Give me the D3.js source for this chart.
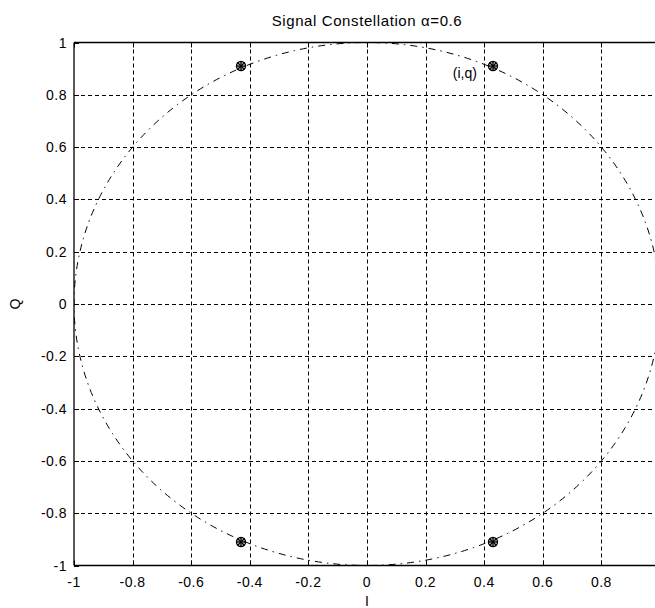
<!DOCTYPE html>
<html>
<head>
<meta charset="utf-8">
<script src="https://cdn.jsdelivr.net/npm/d3@7"></script>
<style>
  html, body { margin: 0; padding: 0; background: #fff; }
  svg { display: block; overflow: hidden; }
  text { font-family: "Liberation Sans", Arial, sans-serif; fill: #000; }
</style>
</head>
<body>
<script>
// ---- data ----
const xTicks = [-1, -0.8, -0.6, -0.4, -0.2, 0, 0.2, 0.4, 0.6, 0.8, 1];
const yTicks = [-1, -0.8, -0.6, -0.4, -0.2, 0, 0.2, 0.4, 0.6, 0.8, 1];
const xTickLabels = ["-1", "-0.8", "-0.6", "-0.4", "-0.2", "0", "0.2", "0.4", "0.6", "0.8", ""];
const yTickLabels = ["-1", "-0.8", "-0.6", "-0.4", "-0.2", "0", "0.2", "0.4", "0.6", "0.8", "1"];
const iValues = [-0.43, 0.43, -0.43, 0.43];
const qValues = [0.91, 0.91, -0.91, -0.91];
const circleRadius = [1];
const annotation = { text: "(i,q)", i: 0.375, q: 0.865 };
const titleText = "Signal Constellation \u03b1=0.6";
const xLabelText = "I";
const yLabelText = "Q";

(function () {
// ---- layout ----
const W = 655, H = 608;
const pL = 74, pR = 660, pT = 42.5, pB = 565.5;

const svg = d3.select("body").append("svg").attr("width", W).attr("height", H);
svg.append("rect").attr("width", W).attr("height", H).attr("fill", "#fff");

const x = d3.scaleLinear().domain([-1, 1]).range([pL, pR]);
const y = d3.scaleLinear().domain([-1, 1]).range([pB, pT]);

const fs = 14;

// grid
const g = svg.append("g");
g.selectAll("line.gx").data(xTicks.filter(d => d > -1 && d < 1)).enter().append("line")
  .attr("x1", d => Math.round(x(d)) + 0.5).attr("x2", d => Math.round(x(d)) + 0.5)
  .attr("y1", pT).attr("y2", pB)
  .attr("stroke", "#000").attr("stroke-width", 1).attr("stroke-dasharray", "4,3");
g.selectAll("line.gy").data(yTicks.filter(d => d > -1 && d < 1)).enter().append("line")
  .attr("y1", d => Math.round(y(d)) + 0.5).attr("y2", d => Math.round(y(d)) + 0.5)
  .attr("x1", pL).attr("x2", pR)
  .attr("stroke", "#000").attr("stroke-width", 1).attr("stroke-dasharray", "4,3");

// circle (dash-dot)
svg.append("clipPath").attr("id", "clip").append("rect")
  .attr("x", pL).attr("y", pT).attr("width", pR - pL).attr("height", pB - pT);
svg.append("g").attr("clip-path", "url(#clip)")
  .selectAll("ellipse").data(circleRadius).enter().append("ellipse")
  .attr("cx", x(0)).attr("cy", y(0))
  .attr("rx", d => x(d) - x(0)).attr("ry", d => y(0) - y(d))
  .attr("fill", "none").attr("stroke", "#000").attr("stroke-width", 1)
  .attr("stroke-dasharray", "7,5,1.5,5");

// axes box
const ax = svg.append("g").attr("stroke", "#000").attr("stroke-width", 1.3);
ax.append("line").attr("x1", pL).attr("x2", pR).attr("y1", pT).attr("y2", pT);
ax.append("line").attr("x1", pL).attr("x2", pR).attr("y1", pB).attr("y2", pB);
ax.append("line").attr("x1", pL).attr("x2", pL).attr("y1", pT).attr("y2", pB);
ax.append("line").attr("x1", pR).attr("x2", pR).attr("y1", pT).attr("y2", pB);

// ticks (inward)
const tl = 5;
const tk = svg.append("g").attr("stroke", "#000").attr("stroke-width", 1);
xTicks.forEach(d => {
  const px = Math.round(x(d)) + 0.5;
  tk.append("line").attr("x1", px).attr("x2", px).attr("y1", pB).attr("y2", pB - tl);
  tk.append("line").attr("x1", px).attr("x2", px).attr("y1", pT).attr("y2", pT + tl);
});
yTicks.forEach(d => {
  const py = Math.round(y(d)) + 0.5;
  tk.append("line").attr("y1", py).attr("y2", py).attr("x1", pL).attr("x2", pL + tl);
  tk.append("line").attr("y1", py).attr("y2", py).attr("x1", pR).attr("x2", pR - tl);
});

// tick labels
svg.append("g").selectAll("text").data(xTicks).enter().append("text")
  .attr("x", d => x(d)).attr("y", pB + 21)
  .attr("text-anchor", "middle").attr("font-size", fs).attr("letter-spacing", 0.5)
  .text((d, i) => xTickLabels[i]);
svg.append("g").selectAll("text").data(yTicks).enter().append("text")
  .attr("x", pL - 7).attr("y", d => y(d) + 5)
  .attr("text-anchor", "end").attr("font-size", fs).attr("letter-spacing", 0.5)
  .text((d, i) => yTickLabels[i]);

// markers: circle + asterisk
const mk = svg.append("g");
iValues.forEach((v, i) => {
  const cx = x(v), cy = y(qValues[i]);
  const m = mk.append("g").attr("transform", `translate(${cx},${cy})`)
    .attr("stroke", "#000").attr("stroke-width", 1.4).attr("fill", "none");
  m.append("circle").attr("r", 4.5);
  m.append("line").attr("x1", -5).attr("x2", 5).attr("y1", 0).attr("y2", 0);
  m.append("line").attr("x1", 0).attr("x2", 0).attr("y1", -5).attr("y2", 5);
  m.append("line").attr("x1", -3.5).attr("x2", 3.5).attr("y1", -3.5).attr("y2", 3.5);
  m.append("line").attr("x1", -3.5).attr("x2", 3.5).attr("y1", 3.5).attr("y2", -3.5);
});

// annotation
svg.append("text").attr("x", x(annotation.i)).attr("y", y(annotation.q))
  .attr("text-anchor", "end").attr("font-size", fs).text(annotation.text);

// title and labels
svg.append("text").attr("x", (pL + pR) / 2).attr("y", 26)
  .attr("text-anchor", "middle").attr("font-size", 15).attr("letter-spacing", 0.6).text(titleText);
svg.append("text").attr("x", (pL + pR) / 2).attr("y", 606)
  .attr("text-anchor", "middle").attr("font-size", fs).text(xLabelText);
svg.append("text").attr("transform", `translate(20,${(pT + pB) / 2}) rotate(-90)`)
  .attr("text-anchor", "middle").attr("font-size", fs).text(yLabelText);
})();
</script>
</body>
</html>
